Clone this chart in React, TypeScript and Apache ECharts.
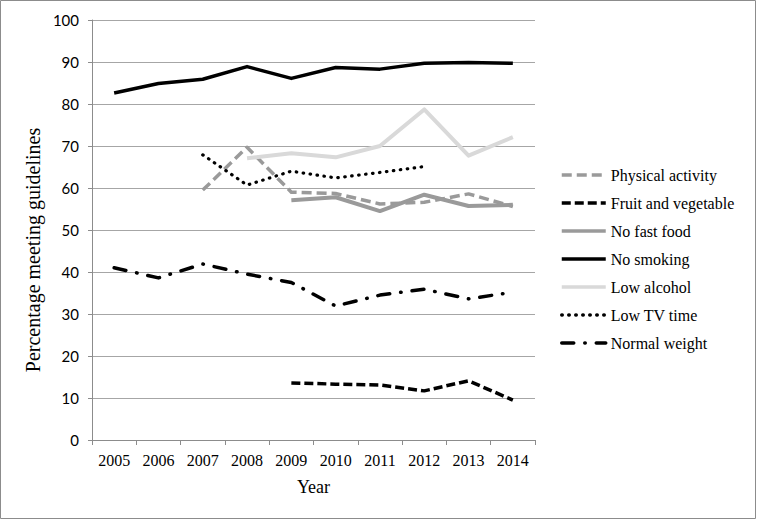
import React, { useEffect, useRef } from "react";
import * as echarts from "echarts";

const years = ["2005", "2006", "2007", "2008", "2009", "2010", "2011", "2012", "2013", "2014"];
const physicalActivity = [null, null, 59.5, 69.7, 59.0, 58.7, 56.2, 56.6, 58.6, 55.6];
const fruitVeg = [null, null, null, null, 13.6, 13.3, 13.1, 11.7, 14.1, 9.5];
const noFastFood = [null, null, null, null, 57.1, 57.8, 54.5, 58.4, 55.7, 56.0];
const noSmoking = [82.6, 84.9, 85.9, 88.9, 86.1, 88.7, 88.3, 89.7, 89.9, 89.7];
const lowAlcohol = [null, null, null, 67.1, 68.3, 67.3, 70.0, 78.7, 67.7, 72.1];
const lowTV = [null, null, 67.9, 60.7, 64.0, 62.4, 63.7, 65.1, null, null];
const normalWeight = [41.0, 38.6, 41.9, 39.5, 37.5, 31.9, 34.5, 35.9, 33.6, 35.2];

const yTitle = "Percentage meeting guidelines";
const xTitle = "Year";

const serif = "'Liberation Serif', 'Times New Roman', serif";
const sans = "Lato, 'Liberation Sans', sans-serif";

export default function App() {
  const ref = useRef<HTMLDivElement>(null);
  useEffect(() => {
    if (!ref.current) return;
    const chart = echarts.init(ref.current, null, { renderer: "svg" });
    const mk = (name: string, data: any[], color: string, width: number, type: any, cap = "butt") => ({
      name,
      type: "line",
      data,
      symbol: "none",
      connectNulls: false,
      lineStyle: { color, width, type, cap, join: "round" },
      itemStyle: { color },
    });
    chart.setOption({
      animation: false,
      backgroundColor: "#fff",
      graphic: [
        {
          type: "rect",
          shape: { x: 0.5, y: 0.5, width: 755, height: 518 },
          style: { fill: "none", stroke: "#8c8c8c", lineWidth: 1 },
          silent: true,
        },
        {
          type: "text",
          x: 33,
          y: 250,
          rotation: Math.PI / 2,
          style: {
            text: yTitle,
            font: "20px " + serif,
            fill: "#000",
            textAlign: "center",
            textVerticalAlign: "middle",
          },
          silent: true,
        },
      ],
      grid: { left: 92, right: 222, top: 20, bottom: 80 },
      legend: {
        orient: "vertical",
        left: 560,
        top: 167,
        padding: 0,
        itemWidth: 44,
        itemHeight: 14,
        itemGap: 12,
        itemStyle: { opacity: 0 },
        lineStyle: { width: 3.5 },
        textStyle: { fontFamily: serif, fontSize: 16, color: "#000", lineHeight: 14 },
        data: [
          "Physical activity",
          "Fruit and vegetable",
          "No fast food",
          "No smoking",
          "Low alcohol",
          "Low TV time",
          "Normal weight",
        ],
      },
      xAxis: {
        type: "category",
        data: years,
        boundaryGap: true,
        name: xTitle,
        nameLocation: "middle",
        nameGap: 38,
        nameTextStyle: { fontFamily: serif, fontSize: 18, color: "#000" },
        axisLine: { lineStyle: { color: "#8c8c8c", width: 1 } },
        axisTick: { show: true, length: 5, alignWithLabel: false, lineStyle: { color: "#8c8c8c" } },
        axisLabel: { fontFamily: serif, fontSize: 16, color: "#000", margin: 12 },
        splitLine: { show: false },
      },
      yAxis: {
        type: "value",
        min: 0,
        max: 100,
        interval: 10,
        axisLine: { show: true, lineStyle: { color: "#8c8c8c", width: 1 } },
        axisTick: { show: true, length: 4, lineStyle: { color: "#8c8c8c" } },
        axisLabel: { fontFamily: sans, fontSize: 15, color: "#000", margin: 13 },
        splitLine: { show: true, lineStyle: { color: "#a6a6a6", width: 1 } },
      },
      series: [
        mk("Physical activity", physicalActivity, "#9a9a9a", 3.5, [10, 5]),
        mk("Fruit and vegetable", fruitVeg, "#000000", 3.5, [9, 4]),
        mk("No fast food", noFastFood, "#9a9a9a", 4, "solid"),
        mk("No smoking", noSmoking, "#000000", 3.5, "solid"),
        mk("Low alcohol", lowAlcohol, "#d9d9d9", 4, "solid"),
        mk("Low TV time", lowTV, "#000000", 3.2, [0.5, 6.5], "round"),
        mk("Normal weight", normalWeight, "#000000", 3.5, [12, 11, 0.5, 11], "round"),
      ],
    });
    return () => chart.dispose();
  }, []);
  return (
    <div
      ref={ref}
      style={{ position: "fixed", left: 0, top: 0, width: 757, height: 520 }}
    />
  );
}
